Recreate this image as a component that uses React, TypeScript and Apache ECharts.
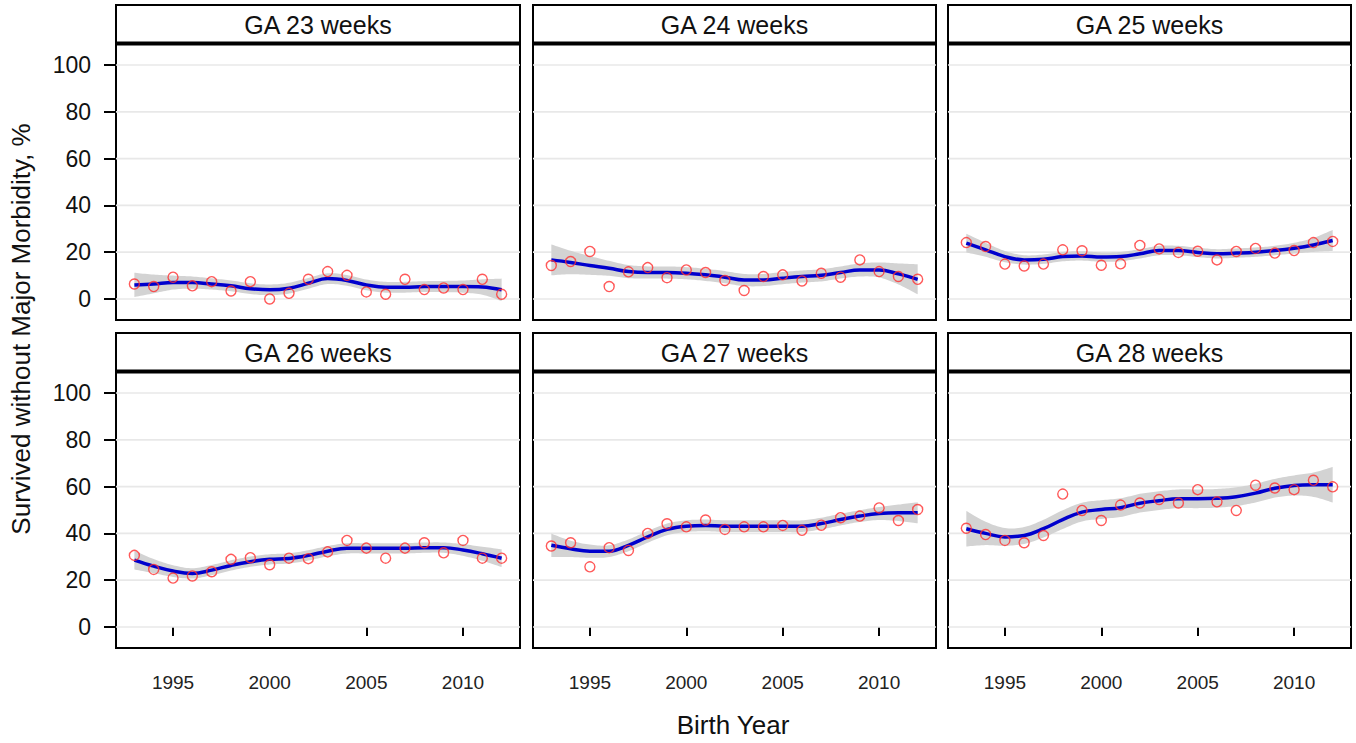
import React, { useEffect, useRef } from "react";
import * as echarts from "echarts";

// ---------- data ----------
const years = [1993, 1994, 1995, 1996, 1997, 1998, 1999, 2000, 2001, 2002, 2003, 2004, 2005, 2006, 2007, 2008, 2009, 2010, 2011, 2012];
const panelTitles = ["GA 23 weeks", "GA 24 weeks", "GA 25 weeks", "GA 26 weeks", "GA 27 weeks", "GA 28 weeks"];
const yTicks = [0, 20, 40, 60, 80, 100];
const xTicks = [1995, 2000, 2005, 2010];

const ga23Observed = [6.4, 5.3, 9.3, 5.6, 7.4, 3.4, 7.4, 0, 2.4, 8.4, 11.7, 10.1, 3, 2, 8.4, 4, 4.7, 4, 8.4, 2];
const ga23Fit = [6, 6.4, 7, 7, 6.4, 5.6, 4.4, 3.9, 4.6, 6.7, 8.7, 7.9, 6, 5, 5, 5.3, 5.3, 5.3, 5.1, 3.9];
const ga23Band = [5.2, 4, 3, 2.6, 2.4, 2.3, 2.3, 2.3, 2.3, 2.3, 2.3, 2.3, 2.3, 2.3, 2.3, 2.3, 2.4, 2.6, 3.3, 4.8];

const ga24Observed = [14.3, 16, 20.3, 5.3, 11.6, 13.4, 9.1, 12.4, 11.3, 7.9, 3.6, 9.6, 10.3, 7.7, 11, 9.3, 16.7, 11.7, 9.6, 8.4];
const ga24Fit = [16.7, 15.6, 14.3, 13.1, 11.7, 11.3, 11.3, 11, 10.3, 9.3, 8.1, 8.1, 8.9, 9.6, 10.1, 11.3, 12.4, 12.4, 10.7, 8.4];
const ga24Band = [6.6, 5, 4, 3.2, 2.8, 2.6, 2.6, 2.6, 2.6, 2.6, 2.6, 2.6, 2.6, 2.6, 2.6, 2.6, 2.8, 3.2, 4.5, 6.4];

const ga25Observed = [24.1, 22.4, 14.9, 14.1, 14.9, 21, 20.6, 14.4, 15, 22.9, 21.4, 19.9, 20.4, 16.7, 20.3, 21.6, 19.6, 20.7, 24.1, 24.6];
const ga25Fit = [23.9, 21, 18.1, 16.7, 17, 18.1, 18.4, 17.9, 18.1, 19.3, 20.7, 20.7, 19.9, 19.3, 19.6, 20, 20.7, 21.7, 23.1, 25];
const ga25Band = [4, 3, 2.4, 2, 2, 2, 2, 2, 2, 2, 2, 2, 2, 2, 2, 2, 2, 2.3, 3, 4.5];

const ga26Observed = [30.6, 24.6, 20.9, 21.8, 23.6, 28.9, 29.6, 26.6, 29.4, 29.2, 32.1, 37, 33.7, 29.4, 33.7, 36, 31.7, 37, 29.4, 29.4];
const ga26Fit = [28.6, 26, 23.9, 22.9, 24.3, 26.3, 27.9, 28.9, 29.3, 30.6, 32.4, 33.6, 33.6, 33.6, 33.6, 33.9, 33.9, 32.9, 31.3, 29.4];
const ga26Band = [4, 3, 2.5, 2.2, 2.2, 2.2, 2.2, 2.2, 2.2, 2.2, 2.2, 2.2, 2.2, 2.2, 2.2, 2.2, 2.2, 2.5, 3, 3.8];

const ga27Observed = [34.6, 36, 25.7, 33.9, 32.7, 40, 44.1, 42.8, 45.7, 41.7, 42.8, 42.8, 43.4, 41.3, 43.5, 46.7, 47.4, 50.9, 45.5, 50.2];
const ga27Fit = [34.9, 33.4, 32.4, 32.4, 34.9, 38.5, 41.7, 43.1, 43.4, 43.1, 43.1, 43.1, 43.1, 43.1, 44.2, 45.9, 47.4, 48.5, 48.8, 48.8];
const ga27Band = [5, 3.5, 2.8, 2.5, 2.5, 2.5, 2.5, 2.5, 2.5, 2.5, 2.5, 2.5, 2.5, 2.5, 2.5, 2.5, 2.5, 2.8, 3.5, 4.5];

const ga28Observed = [42.2, 39.5, 37, 36, 39.1, 56.8, 49.8, 45.5, 52.1, 53, 54.5, 53, 58.7, 53.5, 49.8, 60.6, 59.4, 58.7, 62.7, 59.9];
const ga28Fit = [42, 40, 38.5, 39.1, 42, 45.9, 49.1, 50.2, 51, 52.9, 54, 54.8, 54.8, 55, 55.7, 57.2, 59.3, 60.5, 60.8, 60.8];
const ga28Band = [7.6, 5, 3.8, 3.6, 3.8, 4, 4, 4, 4, 4, 4, 4, 4, 4, 4, 4, 4, 4.3, 5.2, 7.6];

const observedSets = [ga23Observed, ga24Observed, ga25Observed, ga26Observed, ga27Observed, ga28Observed];
const fitSets = [ga23Fit, ga24Fit, ga25Fit, ga26Fit, ga27Fit, ga28Fit];
const bandSets = [ga23Band, ga24Band, ga25Band, ga26Band, ga27Band, ga28Band];

// ---------- layout ----------
const X_MIN = 1992.05;
const X_MAX = 2012.95;
const Y_MIN = -9;
const Y_MAX = 109;
const colLeft = [116, 533, 948];
const colWidth = [404, 403, 403];
const rowTop = [44, 372];
const rowHeight = [276, 276];
const stripTop = [5, 333];
const FONT = "'Liberation Sans', Arial, Helvetica, sans-serif";

// Catmull-Rom smoothing of pixel points (rendering only)
function smoothPixels(pts: number[][], steps: number): number[][] {
  const out: number[][] = [];
  for (let i = 0; i < pts.length - 1; i++) {
    const p0 = pts[Math.max(0, i - 1)];
    const p1 = pts[i];
    const p2 = pts[i + 1];
    const p3 = pts[Math.min(pts.length - 1, i + 2)];
    for (let s = 0; s < steps; s++) {
      const t = s / steps;
      const t2 = t * t;
      const t3 = t2 * t;
      const f = (a: number, b: number, c: number, d: number) =>
        0.5 * (2 * b + (-a + c) * t + (2 * a - 5 * b + 4 * c - d) * t2 + (-a + 3 * b - 3 * c + d) * t3);
      out.push([f(p0[0], p1[0], p2[0], p3[0]), f(p0[1], p1[1], p2[1], p3[1])]);
    }
  }
  out.push(pts[pts.length - 1]);
  return out;
}

export default function App() {
  const ref = useRef<HTMLDivElement>(null);

  useEffect(() => {
    document.body.style.margin = "0";
    const chart = echarts.init(ref.current!, null, { renderer: "svg" });

    const grids: any[] = [];
    const xAxes: any[] = [];
    const yAxes: any[] = [];
    const series: any[] = [];
    const graphics: any[] = [];

    panelTitles.forEach((title, i) => {
      const row = Math.floor(i / 3);
      const col = i % 3;
      grids.push({
        left: colLeft[col],
        top: rowTop[row],
        width: colWidth[col],
        height: rowHeight[row],
        show: true,
        borderColor: "#000",
        borderWidth: 2,
        backgroundColor: "#fff",
        containLabel: false,
      });
      xAxes.push({
        type: "value",
        gridIndex: i,
        min: X_MIN,
        max: X_MAX,
        axisLine: { show: false },
        splitLine: { show: false },
        axisTick: {
          show: row === 1,
          customValues: xTicks,
          length: 9,
          lineStyle: { color: "#000", width: 2 },
        },
        axisLabel: {
          show: row === 1,
          customValues: xTicks,
          formatter: (v: number) => String(v),
          fontSize: 19,
          color: "#222",
          fontFamily: FONT,
          margin: 25,
        },
      });
      yAxes.push({
        type: "value",
        gridIndex: i,
        min: Y_MIN,
        max: Y_MAX,
        axisLine: { show: false },
        splitLine: { show: false },
        axisTick: {
          show: col === 0,
          customValues: yTicks,
          length: 12,
          lineStyle: { color: "#000", width: 2 },
        },
        axisLabel: {
          show: col === 0,
          customValues: yTicks,
          formatter: (v: number) => String(v),
          fontSize: 23,
          color: "#111",
          fontFamily: FONT,
          margin: 25,
        },
      });

      // grid lines
      yTicks.forEach((v) => {
        series.push({
          type: "line",
          xAxisIndex: i,
          yAxisIndex: i,
          data: [[X_MIN, v], [X_MAX, v]],
          symbol: "none",
          silent: true,
          z: 1,
          lineStyle: { color: "#e8e8e8", width: 1.6 },
        });
      });

      const obs = observedSets[i];
      const fit = fitSets[i];
      const band = bandSets[i];
      const bandData = years.map((y, k) => [y, fit[k] - band[k], fit[k] + band[k]]);

      // confidence band
      series.push({
        type: "custom",
        coordinateSystem: "cartesian2d",
        xAxisIndex: i,
        yAxisIndex: i,
        silent: true,
        z: 2,
        data: bandData,
        encode: { x: 0, y: [1, 2] },
        renderItem: (params: any, api: any) => {
          if (params.dataIndex !== 0) return null;
          const upper = smoothPixels(bandData.map((d) => api.coord([d[0], d[2]])), 10);
          const lower = smoothPixels(bandData.map((d) => api.coord([d[0], d[1]])), 10);
          const pts = upper.concat(lower.reverse());
          return {
            type: "polygon",
            shape: { points: pts },
            style: { fill: "#d3d3d3", stroke: "none" },
          };
        },
      });
      // fitted line
      series.push({
        type: "line",
        xAxisIndex: i,
        yAxisIndex: i,
        smooth: 0.4,
        symbol: "none",
        z: 3,
        lineStyle: { color: "#0000cd", width: 3.5 },
        data: years.map((y, k) => [y, fit[k]]),
      });
      // observed points
      series.push({
        type: "scatter",
        xAxisIndex: i,
        yAxisIndex: i,
        symbol: "circle",
        symbolSize: 10,
        z: 4,
        itemStyle: { color: "rgba(0,0,0,0)", borderColor: "#ff3030", borderWidth: 1.4 },
        data: years.map((y, k) => [y, obs[k]]),
      });

      // strip
      const sx = colLeft[col];
      const sw = colWidth[col];
      const sy = stripTop[row];
      const sh = rowTop[row] - sy;
      graphics.push({
        type: "rect",
        z: 10,
        shape: { x: sx, y: sy, width: sw, height: sh },
        style: { fill: "#fff", stroke: "#000", lineWidth: 2 },
      });
      graphics.push({
        type: "rect",
        z: 11,
        shape: { x: sx - 1, y: rowTop[row] - 2.5, width: sw + 2, height: 4 },
        style: { fill: "#000" },
      });
      graphics.push({
        type: "text",
        z: 12,
        x: sx + sw / 2,
        y: sy + sh / 2,
        style: {
          text: title,
          fontSize: 25,
          fontFamily: FONT,
          fill: "#111",
          align: "center",
          verticalAlign: "middle",
        },
      });
    });

    graphics.push({
      type: "text",
      x: 21,
      y: 329,
      rotation: Math.PI / 2,
      style: {
        text: "Survived without Major Morbidity, %",
        fontSize: 26,
        fontFamily: FONT,
        fill: "#111",
        align: "center",
        verticalAlign: "middle",
      },
    });
    graphics.push({
      type: "text",
      x: 733,
      y: 725,
      style: {
        text: "Birth Year",
        fontSize: 26,
        fontFamily: FONT,
        fill: "#111",
        align: "center",
        verticalAlign: "middle",
      },
    });

    chart.setOption({
      animation: false,
      backgroundColor: "#fff",
      grid: grids,
      xAxis: xAxes,
      yAxis: yAxes,
      series,
      graphic: graphics,
    });

    return () => chart.dispose();
  }, []);

  return <div ref={ref} style={{ width: 1356, height: 743 }} />;
}
